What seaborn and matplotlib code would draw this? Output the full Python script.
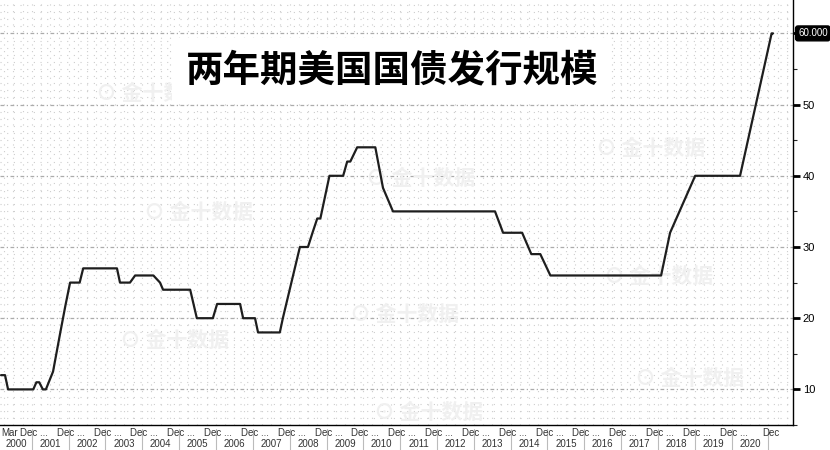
import pandas as pd
import seaborn as sns
import matplotlib.pyplot as plt
import matplotlib.dates as mdates
import numpy as np

# 两年期美国国债发行规模 (十亿美元)
dates = [
    "2000-03-01", "2000-04-10", "2000-05-10", "2001-01-15", "2001-02-15",
    "2001-03-15", "2001-04-20", "2001-05-20", "2001-07-30", "2001-10-10",
    "2001-11-30", "2002-01-15", "2002-04-20", "2002-05-25", "2003-04-25",
    "2003-05-25", "2003-09-01", "2003-10-22", "2004-04-20", "2004-06-25",
    "2004-07-25", "2005-04-20", "2005-06-25", "2005-12-01", "2006-01-12",
    "2006-08-28", "2006-09-27", "2007-01-23", "2007-02-22", "2007-09-26",
    "2007-10-26", "2008-04-12", "2008-07-01", "2008-08-15", "2008-10-01",
    "2008-11-01", "2009-01-30", "2009-06-15", "2009-07-25", "2009-08-25",
    "2009-11-01", "2010-04-30", "2010-07-15", "2010-10-22", "2013-07-30",
    "2013-10-18", "2014-04-25", "2014-07-25", "2014-10-22", "2015-01-30",
    "2018-02-01", "2018-05-01", "2019-01-05", "2020-03-25", "2021-02-01",
    "2021-02-15",
]
issue_size = [
    12, 12, 10, 10, 11,
    11, 10, 10, 12.5, 18,
    21.8, 25, 25, 27, 27,
    25, 25, 26, 26, 25,
    24, 24, 20, 20, 22,
    22, 20, 20, 18, 18,
    20, 30, 30, 32, 34,
    34, 40, 40, 42, 42,
    44, 44, 38.3, 35, 35,
    32, 32, 29, 29, 26,
    26, 32, 40, 40, 60,
    60,
]
years = list(range(2000, 2021))
y_labels = [10, 20, 30, 40, 50]
last_label = "60.000"
title_text = "两年期美国国债发行规模"
watermark = "⊙ 金十数据"
watermark_pos = [(0.19, 0.78), (0.82, 0.65), (0.25, 0.50), (0.53, 0.58),
                 (0.83, 0.35), (0.51, 0.26), (0.22, 0.20), (0.87, 0.11),
                 (0.54, 0.03)]

sns.set_style("white")
plt.rcParams['font.family'] = ['Liberation Sans', 'Noto Sans CJK SC', 'DejaVu Sans']

df = pd.DataFrame({'date': pd.to_datetime(dates), 'size': issue_size})

fig = plt.figure(figsize=(8.3, 4.5), dpi=100)
ax = fig.add_axes([0, 25 / 450, 793 / 830, 425 / 450])

x_left = mdates.date2num(pd.Timestamp("2000-02-20"))
x_right = mdates.date2num(pd.Timestamp("2021-09-01"))

# 点阵背景网格
for v in np.arange(6, 65):
    if v % 10 == 0:
        continue
    ax.axhline(v, color='#cdcdcd', lw=0.8, ls=(0, (1, 5)), zorder=0)
for d in pd.date_range("2000-04-01", "2021-09-01", freq="QS"):
    ax.axvline(mdates.date2num(d), color='#cdcdcd', lw=0.8, ls=(0, (1, 5)), zorder=0)
for v in y_labels + [60]:
    ax.axhline(v, color='#ababab', lw=0.9, ls=(0, (3, 2, 1, 2)), zorder=0)

sns.lineplot(data=df, x='date', y='size', color='#1e1e1e', linewidth=1.6,
             ax=ax, zorder=3)
ax.set_xlim(x_left, x_right)
ax.set_ylim(5.24, 64.69)

# 水印
for wx, wy in watermark_pos:
    ax.text(wx, wy, watermark, transform=ax.transAxes, fontsize=15,
            color='#f0f0f0', ha='center', va='center', zorder=0,
            family=['Noto Sans CJK SC', 'DejaVu Sans'], fontweight='bold')

# 坐标轴
ax.set_xlabel("")
ax.set_ylabel("")
for s in ['left', 'top']:
    ax.spines[s].set_visible(False)
for s in ['right', 'bottom']:
    ax.spines[s].set_color('black')
    ax.spines[s].set_linewidth(1)

ax.yaxis.tick_right()
ax.set_yticks(y_labels + [60])
ax.set_yticklabels([str(v) for v in y_labels] + [""])
ax.set_yticks(np.arange(5, 65, 10), minor=True)
ax.tick_params(axis='y', which='major', direction='out', length=5, width=2,
               pad=2, labelsize=8, colors='black')
ax.tick_params(axis='y', which='minor', direction='out', length=3, width=0.8)

ax.set_xticks([])
ax.xaxis.set_minor_locator(mdates.MonthLocator(bymonth=[1, 4, 7, 10]))
ax.tick_params(axis='x', which='minor', direction='in', length=3, width=0.8,
               colors='#333333')
ax.tick_params(axis='x', which='major', length=0)

ax.annotate(last_label, xy=(1, 60), xycoords=('axes fraction', 'data'),
            xytext=(5, 0), textcoords='offset pixels', ha='left', va='center',
            fontsize=7, color='white',
            bbox=dict(boxstyle='round,pad=0.25', fc='black', ec='black'))

# 双层日期标签
xt = ax.get_xaxis_transform()
ax.annotate("Mar", xy=(x_left, 0), xycoords=xt, xytext=(1, -8),
            textcoords='offset pixels', ha='left', va='center', fontsize=7,
            color='#333333', annotation_clip=False)
year_starts = [mdates.date2num(pd.Timestamp(f"{y}-01-01")) for y in years[1:] + [2021]]
for i, ys in enumerate(year_starts):
    lab = "Dec ..." if i < len(year_starts) - 1 else "Dec"
    ax.annotate(lab, xy=(ys, 0), xycoords=xt, xytext=(2, -8),
                textcoords='offset pixels', ha='center', va='center',
                fontsize=7, color='#333333', annotation_clip=False)
    ax.plot([ys, ys], [-4 / 425, -26 / 425], transform=xt, color='#bbbbbb',
            lw=0.8, clip_on=False)
bounds = [x_left] + year_starts
for i, y in enumerate(years):
    mid = (bounds[i] + bounds[i + 1]) / 2
    ax.annotate(str(y), xy=(mid, 0), xycoords=xt, xytext=(0, -19),
                textcoords='offset pixels', ha='center', va='center',
                fontsize=7, color='#333333', annotation_clip=False)

# 标题
ax.text(0.494, 0.835, title_text, transform=ax.transAxes, fontsize=27,
        fontweight='bold', ha='center', va='center', color='black',
        family=['Noto Sans CJK SC', 'DejaVu Sans'], zorder=5,
        bbox=dict(boxstyle='square,pad=0.35', fc='white', ec='none'))

plt.savefig("out.png", dpi=100)
plt.close()
